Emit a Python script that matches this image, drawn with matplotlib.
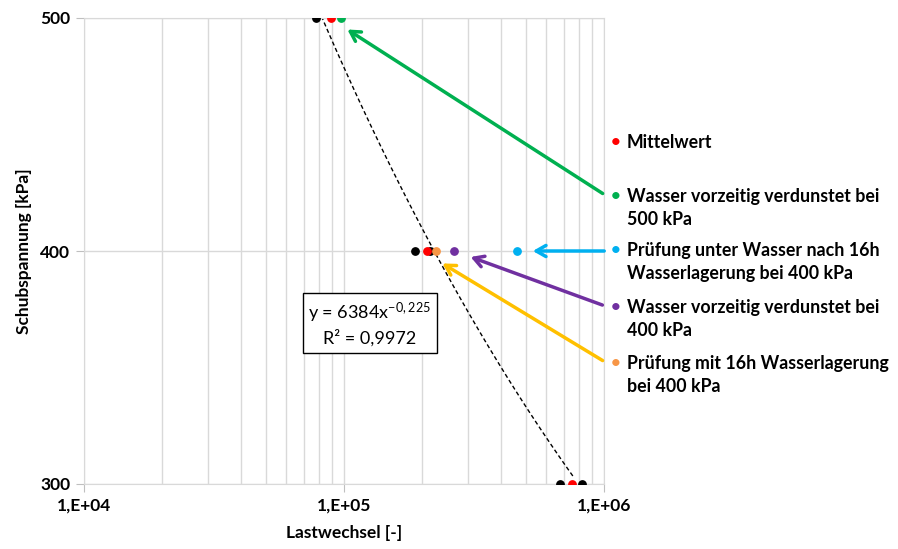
import numpy as np
import matplotlib.pyplot as plt
from matplotlib.ticker import FixedLocator, NullFormatter

plt.rcParams['font.family'] = ['Lato', 'DejaVu Sans']
plt.rcParams['font.weight'] = 'bold'

# single test results (black), means (red), special cases
black_x = [78000, 187000, 215000, 678000, 826000]
black_y = [500, 400, 400, 300, 300]
mean_x = [89500, 209000, 756000]
mean_y = [500, 400, 300]
green_x, green_y = [97000], [500]
orange_x, orange_y = [226000], [400]
purple_x, purple_y = [265000], [400]
blue_x, blue_y = [463000], [400]

fit_a, fit_b = 6384, -0.225
fit_x = [78000, 760000]

legend_labels = ['Mittelwert',
                 'Wasser vorzeitig verdunstet bei\n500 kPa',
                 'Prüfung unter Wasser nach 16h\nWasserlagerung bei 400 kPa',
                 'Wasser vorzeitig verdunstet bei\n400 kPa',
                 'Prüfung mit 16h Wasserlagerung\nbei 400 kPa']
legend_colors = ['#ff0000', '#00b050', '#00b0f0', '#7030a0', '#f79646']
arrow_colors = ['#00b050', '#00b0f0', '#7030a0', '#ffc000']

fig = plt.figure(figsize=(8.98, 5.49), dpi=100)
ax = fig.add_axes([84 / 898, 1 - 484 / 549, 520 / 898, 466 / 549])

ax.set_xscale('log')
ax.set_xlim(1e4, 1e6)
ax.set_ylim(300, 500)

minors = [m * 10 ** e for e in (4, 5) for m in range(2, 10)]
ax.xaxis.set_minor_locator(FixedLocator(minors))
ax.xaxis.set_minor_formatter(NullFormatter())
ax.set_xticks([1e4, 1e5, 1e6])
ax.set_xticklabels(['1,E+04', '1,E+05', '1,E+06'], fontweight='bold')
ax.set_yticks([300, 400, 500])
ax.set_yticklabels(['300', '400', '500'], fontweight='bold')
ax.grid(True, which='both', axis='x', color='#d9d9d9', lw=1)
ax.grid(True, which='major', axis='y', color='#d9d9d9', lw=1)
ax.set_axisbelow(True)
for s in ax.spines.values():
    s.set_color('#d9d9d9')
ax.tick_params(which='major', length=6, color='#bfbfbf', labelsize=12.5, pad=4)
ax.tick_params(which='minor', length=0)

xs = np.geomspace(fit_x[0], fit_x[1], 50)
ax.plot(xs, fit_a * xs ** fit_b, ls=(0, (3, 2)), color='black', lw=1)

ms = 28
ax.scatter(black_x, black_y, s=ms, color='black', zorder=3)
ax.scatter(mean_x, mean_y, s=ms, color='#ff0000', zorder=4)
ax.scatter(green_x, green_y, s=ms, color='#00b050', zorder=4)
ax.scatter(orange_x, orange_y, s=ms, color='#f79646', zorder=4)
ax.scatter(purple_x, purple_y, s=ms, color='#7030a0', zorder=4)
ax.scatter(blue_x, blue_y, s=ms, color='#00b0f0', zorder=4)

ax.set_xlabel('Lastwechsel [-]', fontsize=12.5, fontweight='bold', labelpad=8)
ax.set_ylabel('Schubspannung [kPa]', fontsize=12.5, fontweight='bold', labelpad=6)

ax.text(0.55, 0.343, 'y = 6384x$\\mathregular{^{-0,225}}$\nR² = 0,9972', transform=ax.transAxes,
        ha='center', va='center', fontsize=13, fontweight='normal', linespacing=1.3,
        bbox=dict(boxstyle='square,pad=0.3', fc='white', ec='black', lw=1))

# legend text on the right
leg_y = [143, 197, 251, 308, 364]
for yy, lab, col in zip(leg_y, legend_labels, legend_colors):
    fig.text(616 / 898, 1 - (yy - 1) / 549, '•', color=col, fontsize=12, ha='center', va='center')
    fig.text(627 / 898, 1 - (yy - 9) / 549, lab, fontsize=12.8, va='top', ha='left',
             fontweight='bold', linespacing=1.4)

# arrows pointing to the special points
starts = [(605, 195), (607, 251), (605, 306), (605, 362)]
targets = [(345, 28), (530, 251), (468, 256), (440, 262)]
for (sx, sy), (tx, ty), col in zip(starts, targets, arrow_colors):
    ax.annotate('', xy=(tx / 898, 1 - ty / 549), xycoords='figure fraction',
                xytext=(sx / 898, 1 - sy / 549), textcoords='figure fraction',
                arrowprops=dict(arrowstyle='->,head_length=0.7,head_width=0.4',
                                color=col, lw=2.5),
                annotation_clip=False)

fig.savefig('out.png', dpi=100)
